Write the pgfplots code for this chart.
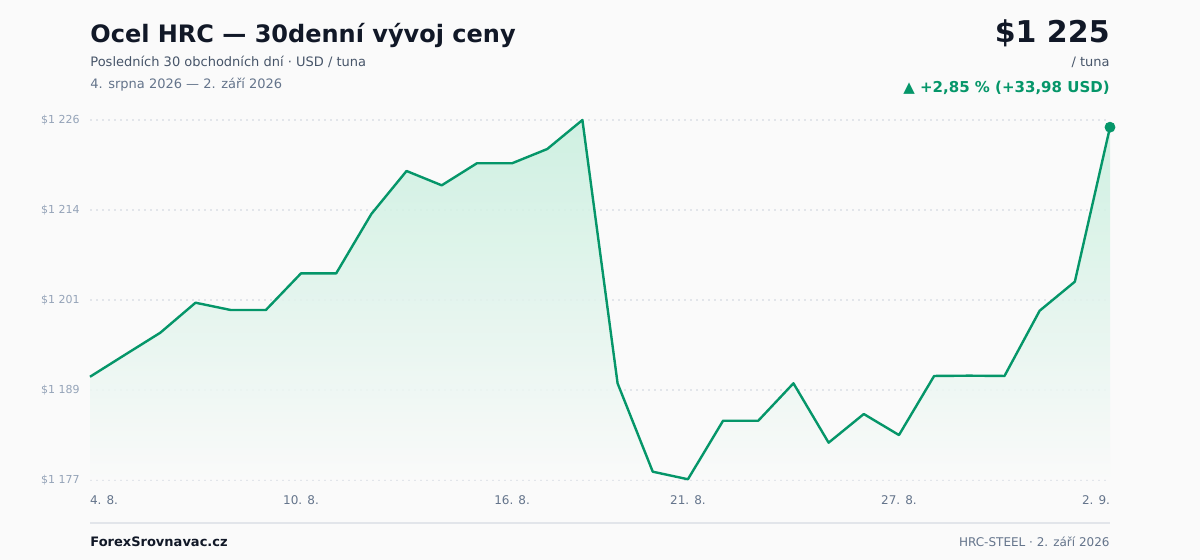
\documentclass[border=0pt]{standalone}
\usepackage{fontspec}
\setmainfont{DejaVu Sans}
\usepackage{pgfplots}
\pgfplotsset{compat=1.18}

\definecolor{bg}{RGB}{250,250,250}
\definecolor{steel}{RGB}{5,150,105}
\definecolor{mint}{RGB}{200,239,222}
\definecolor{ink}{RGB}{17,24,39}
\definecolor{sub}{RGB}{71,85,105}
\definecolor{muted}{RGB}{100,116,139}
\definecolor{faint}{RGB}{148,163,184}
\definecolor{gridc}{RGB}{226,229,234}

\begin{document}
\begin{tikzpicture}
\fill[bg] (0,0) rectangle (600pt,-280pt);
\useasboundingbox (0,0) rectangle (600pt,-280pt);

% header
\node[anchor=base west, inner sep=0pt, text=ink, font=\fontsize{12pt}{14pt}\selectfont\bfseries]
  at (45pt,-21.5pt) {Ocel HRC — 30denní vývoj ceny};
\node[anchor=base west, inner sep=0pt, text=sub, font=\fontsize{6.5pt}{8pt}\selectfont]
  at (45pt,-33.5pt) {Posledních 30 obchodních dní · USD / tuna};
\node[anchor=base west, inner sep=0pt, text=muted, font=\fontsize{6.5pt}{8pt}\selectfont]
  at (45pt,-44.5pt) {4. srpna 2026 — 2. září 2026};

\node[anchor=base east, inner sep=0pt, text=ink, font=\fontsize{15pt}{18pt}\selectfont\bfseries]
  at (555pt,-21.5pt) {\$1 225};
\node[anchor=base east, inner sep=0pt, text=sub, font=\fontsize{6.5pt}{8pt}\selectfont]
  at (555pt,-33.5pt) {/ tuna};
\node[anchor=base east, inner sep=0pt, text=steel, font=\fontsize{7.5pt}{9pt}\selectfont\bfseries]
  at (555pt,-46.5pt) {▲ +2,85 \% (+33,98 USD)};

\begin{axis}[
    at={(45pt,-240pt)}, anchor=south west,
    scale only axis, width=510pt, height=180pt,
    xmin=0, xmax=29, ymin=1177, ymax=1226,
    clip=false,
    axis line style={draw=none},
    major tick length=0pt,
    ytick={1177,1189.25,1201.5,1213.75,1226},
    yticklabels={\$1 177,\$1 189,\$1 201,\$1 214,\$1 226},
    yticklabel style={anchor=east, inner sep=0pt, xshift=-5pt, text=faint,
      font=\fontsize{5.5pt}{6.5pt}\selectfont},
    xtick={0,6,12,17,23,29},
    xticklabels={\makebox[0pt][l]{4. 8.},10. 8.,16. 8.,21. 8.,27. 8.,\makebox[0pt][r]{2. 9.}},
    xticklabel style={anchor=base, inner sep=0pt, yshift=-12.5pt, text=muted,
      font=\fontsize{6pt}{7pt}\selectfont},
    ymajorgrids,
    grid style={gridc, line width=0.6pt, dash pattern=on 1pt off 2pt},
]
\addplot[draw=none, top color=mint, bottom color=bg, fill opacity=0.85] coordinates {
(0,1191.05) (1,1194.06) (2,1197.05) (3,1201.13) (4,1200.14) (5,1200.14)
(6,1205.13) (7,1205.13) (8,1213.21) (9,1219.06) (10,1217.11) (11,1220.11)
(12,1220.11) (13,1222.05) (14,1226.00) (15,1190.16) (16,1178.13) (17,1177.10)
(18,1185.07) (19,1185.07) (20,1190.16) (21,1182.08) (22,1185.98) (23,1183.12)
(24,1191.16) (25,1191.20) (26,1191.16) (27,1200.04) (28,1203.99) (29,1225.02)
} \closedcycle;
\addplot[steel, line width=1.2pt, line join=round, mark=none] coordinates {
(0,1191.05) (1,1194.06) (2,1197.05) (3,1201.13) (4,1200.14) (5,1200.14)
(6,1205.13) (7,1205.13) (8,1213.21) (9,1219.06) (10,1217.11) (11,1220.11)
(12,1220.11) (13,1222.05) (14,1226.00) (15,1190.16) (16,1178.13) (17,1177.10)
(18,1185.07) (19,1185.07) (20,1190.16) (21,1182.08) (22,1185.98) (23,1183.12)
(24,1191.16) (25,1191.20) (26,1191.16) (27,1200.04) (28,1203.99) (29,1225.02)
};
\addplot[only marks, mark=*, mark size=2.5pt, steel] coordinates {(29,1225.02)};
\end{axis}

% footer
\draw[gridc, line width=0.7pt] (45pt,-261.5pt) -- (555pt,-261.5pt);
\node[anchor=base west, inner sep=0pt, text=ink, font=\fontsize{6.5pt}{8pt}\selectfont\bfseries]
  at (45pt,-273.5pt) {ForexSrovnavac.cz};
\node[anchor=base east, inner sep=0pt, text=muted, font=\fontsize{6pt}{7pt}\selectfont]
  at (555pt,-273.5pt) {HRC-STEEL · 2. září 2026};
\end{tikzpicture}
\end{document}
